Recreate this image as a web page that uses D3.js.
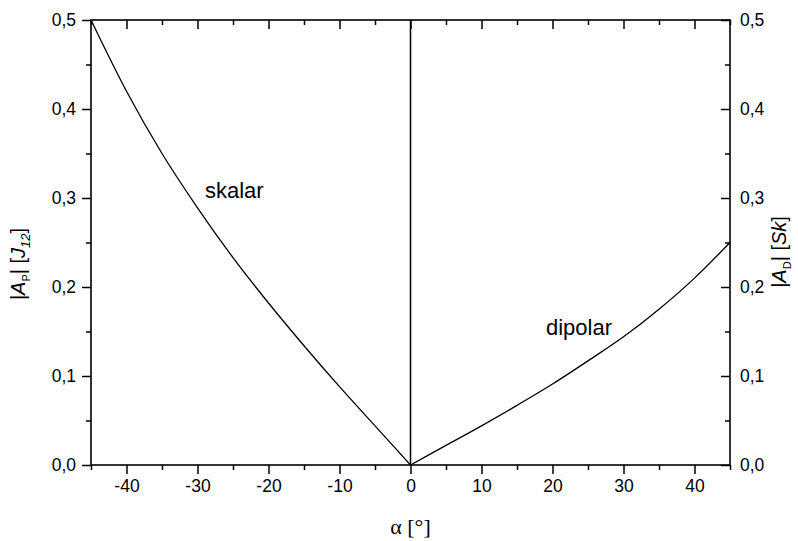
<!DOCTYPE html>
<html>
<head>
<meta charset="utf-8">
<script src="https://cdn.jsdelivr.net/npm/d3@7"></script>
<style>
  body { margin: 0; background: #fff; }
  svg { display: block; }
  .tick text { font-family: "Liberation Sans", Arial, sans-serif; font-size: 17.5px; fill: #000; }
  .tick line { stroke: #000; stroke-width: 1.5px; }
</style>
</head>
<body>
<svg id="chart" width="798" height="541"></svg>
<script>
// Scalar branch (negative angles) and dipolar branch (positive angles)
const skalarAngles = [-45, -40, -35, -30, -25, -20, -15, -10, -5, 0];
const skalarValues = [0.500, 0.420, 0.350, 0.289, 0.233, 0.182, 0.134, 0.088, 0.044, 0.000];
const dipolarAngles = [0, 5, 10, 15, 20, 25, 30, 35, 40, 45];
const dipolarValues = [0.000, 0.022, 0.044, 0.067, 0.091, 0.117, 0.144, 0.175, 0.210, 0.250];

const xMajorTicks = [-40, -30, -20, -10, 0, 10, 20, 30, 40];
const xMinorTicks = [-45, -35, -25, -15, -5, 5, 15, 25, 35, 45];
const yMajorTicks = [0, 0.1, 0.2, 0.3, 0.4, 0.5];
const yMinorTicks = [0.05, 0.15, 0.25, 0.35, 0.45];

const svg = d3.select("#chart");
const plotLeft = 91, plotRight = 730, plotTop = 20, plotBottom = 465;

const x = d3.scaleLinear().domain([-45, 45]).range([plotLeft, plotRight]);
const yL = d3.scaleLinear().domain([0, 0.5]).range([plotBottom, plotTop]);
const yR = d3.scaleLinear().domain([0, 0.5]).range([plotBottom, plotTop]);

// Decimal comma and a plain hyphen for negatives
const locale = d3.formatLocale({ decimal: ",", thousands: ".", grouping: [3], currency: ["", ""], minus: "-" });
const fmt1 = locale.format(".1f");
const fmtInt = locale.format("d");

function clean(g) { g.select(".domain").remove(); }

// Bottom axis: labelled major ticks and short minor ticks, pointing outward
svg.append("g").attr("transform", `translate(0,${plotBottom})`)
  .call(d3.axisBottom(x).tickValues(xMajorTicks).tickSize(9).tickPadding(6).tickFormat(fmtInt))
  .call(clean);
svg.append("g").attr("transform", `translate(0,${plotBottom})`)
  .call(d3.axisBottom(x).tickValues(xMinorTicks).tickSize(5).tickFormat(""))
  .call(clean);

// Top axis: ticks only, pointing into the plot
svg.append("g").attr("transform", `translate(0,${plotTop})`)
  .call(d3.axisTop(x).tickValues(xMajorTicks).tickSize(-9).tickFormat(""))
  .call(clean);
svg.append("g").attr("transform", `translate(0,${plotTop})`)
  .call(d3.axisTop(x).tickValues(xMinorTicks).tickSize(-5).tickFormat(""))
  .call(clean);

// Left axis
svg.append("g").attr("transform", `translate(${plotLeft},0)`)
  .call(d3.axisLeft(yL).tickValues(yMajorTicks).tickSize(9).tickPadding(6).tickFormat(fmt1))
  .call(clean);
svg.append("g").attr("transform", `translate(${plotLeft},0)`)
  .call(d3.axisLeft(yL).tickValues(yMinorTicks).tickSize(5).tickFormat(""))
  .call(clean);

// Right axis: ticks point inward, labels outside
svg.append("g").attr("transform", `translate(${plotRight},0)`)
  .call(d3.axisRight(yR).tickValues(yMajorTicks).tickSizeInner(-9).tickSizeOuter(0).tickPadding(10).tickFormat(fmt1))
  .call(clean);
svg.append("g").attr("transform", `translate(${plotRight},0)`)
  .call(d3.axisRight(yR).tickValues(yMinorTicks).tickSizeInner(-5).tickSizeOuter(0).tickFormat(""))
  .call(clean);

// Plot frame
svg.append("rect")
  .attr("x", plotLeft).attr("y", plotTop)
  .attr("width", plotRight - plotLeft).attr("height", plotBottom - plotTop)
  .attr("fill", "none").attr("stroke", "#000").attr("stroke-width", 1.6);

// Vertical line at alpha = 0
svg.append("line")
  .attr("x1", x(0)).attr("x2", x(0))
  .attr("y1", yL(0)).attr("y2", yL(0.5))
  .attr("stroke", "#000").attr("stroke-width", 1.5);

// Curves
const lineL = d3.line().x(d => x(d[0])).y(d => yL(d[1])).curve(d3.curveMonotoneX);
const lineR = d3.line().x(d => x(d[0])).y(d => yR(d[1])).curve(d3.curveMonotoneX);

svg.append("path")
  .datum(d3.zip(skalarAngles, skalarValues))
  .attr("d", lineL)
  .attr("fill", "none").attr("stroke", "#000").attr("stroke-width", 1.3);

svg.append("path")
  .datum(d3.zip(dipolarAngles, dipolarValues))
  .attr("d", lineR)
  .attr("fill", "none").attr("stroke", "#000").attr("stroke-width", 1.3);

// Curve annotations
const sans = "'Liberation Sans', Arial, sans-serif";
svg.append("text").attr("x", 205).attr("y", 198)
  .attr("font-family", sans).attr("font-size", 22).text("skalar");
svg.append("text").attr("x", 546).attr("y", 335)
  .attr("font-family", sans).attr("font-size", 22).text("dipolar");

// Axis titles
svg.append("text")
  .attr("x", x(0)).attr("y", 534)
  .attr("text-anchor", "middle")
  .attr("font-family", "'Liberation Serif', 'Times New Roman', serif")
  .attr("font-size", 22)
  .text("α [°]");

function yTitle(cx, cy, sub, unit, unitSub) {
  const t = svg.append("text")
    .attr("transform", `translate(${cx},${cy}) rotate(-90)`)
    .attr("text-anchor", "middle")
    .attr("font-family", sans)
    .attr("font-size", 20);
  t.append("tspan").text("|");
  t.append("tspan").attr("font-style", "italic").text("A");
  t.append("tspan").attr("font-size", 11).attr("dy", 5).text(sub);
  t.append("tspan").attr("dy", -5).text("| [");
  t.append("tspan").attr("font-style", "italic").text(unit);
  if (unitSub) {
    t.append("tspan").attr("font-style", "italic").attr("font-size", 13).attr("dy", 5).text(unitSub);
    t.append("tspan").attr("dy", -5).text("]");
  } else {
    t.append("tspan").text("]");
  }
}
yTitle(25, 264, "P", "J", "12");
yTitle(786, 252, "D", "Sk", null);
</script>
</body>
</html>
